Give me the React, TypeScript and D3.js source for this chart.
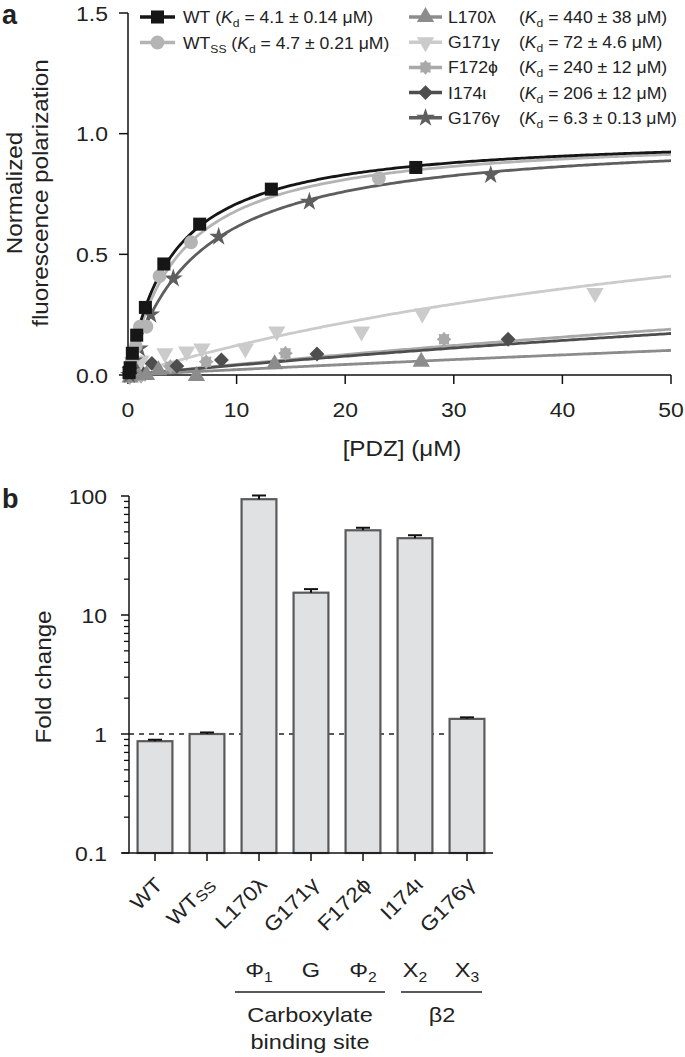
import React from "react";
import * as d3 from "d3";

// ---------- Panel a data ----------
const seriesNames = ["WT", "WTss", "L170", "G171", "F172", "I174", "G176"];
const kdValues = [4.1, 4.7, 440, 72, 240, 206, 6.3];
const bmaxValues = [1.0, 1.0, 1.0, 1.0, 1.1, 0.88, 1.0];
const seriesColors = ["#161616", "#b4b4b4", "#8c8c8c", "#cbcbcb", "#a9a9a9", "#4e4e4e", "#5e5e5e"];
const seriesShapes = ["square", "circle", "triangle", "triangleDown", "flower", "diamond", "star"];

const wtX = [0.1, 0.2, 0.4, 0.8, 1.6, 3.3, 6.6, 13.2, 26.5];
const wtY = [0.01, 0.03, 0.09, 0.165, 0.28, 0.46, 0.625, 0.77, 0.86];
const wtssX = [0.18, 0.36, 0.72, 1.1, 1.7, 2.9, 5.8, 23.1];
const wtssY = [0.02, 0.06, 0.12, 0.2, 0.2, 0.41, 0.55, 0.815];
const l170X = [0.2, 0.4, 0.85, 1.7, 2.8, 6.3, 13.5, 27];
const l170Y = [-0.01, 0.0, 0.005, 0.0, 0.02, -0.004, 0.045, 0.055];
const g171X = [0.3, 0.6, 1.2, 3.4, 5.4, 6.8, 10.8, 13.7, 21.5, 27.1, 43];
const g171Y = [0.02, 0.05, 0.06, 0.09, 0.097, 0.11, 0.11, 0.18, 0.18, 0.255, 0.34];
const f172X = [0.15, 0.3, 0.6, 1.2, 3.9, 7.2, 14.5, 29.1];
const f172Y = [-0.01, 0.0, 0.03, -0.005, 0.035, 0.055, 0.09, 0.148];
const i174X = [0.27, 0.55, 1.1, 2.2, 4.5, 8.6, 17.4, 35];
const i174Y = [0.0, 0.01, 0.02, 0.048, 0.037, 0.062, 0.087, 0.148];
const g176X = [0.13, 0.26, 0.52, 1.04, 2.09, 4.17, 8.35, 16.7, 33.4];
const g176Y = [0.0, 0.02, 0.06, 0.11, 0.25, 0.4, 0.573, 0.718, 0.829];

const pointsX = [wtX, wtssX, l170X, g171X, f172X, i174X, g176X];
const pointsY = [wtY, wtssY, l170Y, g171Y, f172Y, i174Y, g176Y];

const xTicksA = [0, 10, 20, 30, 40, 50];
const yTicksA = [0, 0.5, 1.0, 1.5];

// legend texts
const legendNames = ["WT", "WT", "L170λ", "G171γ", "F172ϕ", "I174ι", "G176γ"];
const legendKd = ["4.1 ± 0.14", "4.7 ± 0.21", "440 ± 38", "72 ± 4.6", "240 ± 12", "206 ± 12", "6.3 ± 0.13"];

// ---------- Panel b data ----------
const barCats = ["WT", "WTSS", "L170λ", "G171γ", "F172ϕ", "I174ι", "G176γ"];
const foldChange = [0.87, 1.0, 94, 15.4, 51.5, 44.2, 1.34];
const foldErr = [0.025, 0.03, 7, 1.1, 2.6, 2.6, 0.04];
const yTicksB = [0.1, 1, 10, 100];

const groupMarks = ["Φ", "G", "Φ", "X", "X"];
const groupSubs = ["1", "", "2", "2", "3"];
const groupCats = ["L170λ", "G171γ", "F172ϕ", "I174ι", "G176γ"];

const FONT = "'Liberation Sans', Arial, Helvetica, sans-serif";
const INK = "#222";

function markerPath(shape: string): string {
  switch (shape) {
    case "square":
      return d3.symbol(d3.symbolSquare, 170)() as string;
    case "circle":
      return d3.symbol(d3.symbolCircle, 150)() as string;
    case "triangle":
      return d3.symbol(d3.symbolTriangle, 130)() as string;
    case "triangleDown":
      return d3.symbol(d3.symbolTriangle, 130)() as string;
    case "diamond":
      return d3.symbol(d3.symbolSquare, 110)() as string;
    case "star":
      return d3.symbol(d3.symbolStar, 110)() as string;
    case "flower": {
      const pts: [number, number][] = d3.range(16).map((i) => [
        (i / 16) * 2 * Math.PI,
        i % 2 === 0 ? 7.2 : 5.4,
      ]);
      return d3.lineRadial().curve(d3.curveCardinalClosed)(pts) as string;
    }
  }
  return "";
}
function markerRotate(shape: string): number {
  if (shape === "triangleDown") return 180;
  if (shape === "diamond") return 45;
  return 0;
}

function Marker({ shape, x, y, color }: { shape: string; x: number; y: number; color: string }) {
  return (
    <path
      d={markerPath(shape)}
      transform={`translate(${x},${y}) rotate(${markerRotate(shape)})`}
      fill={color}
    />
  );
}

// Text stretched horizontally to mimic the wider reference face
function T({
  x,
  y,
  rot = 0,
  sx = 1.12,
  size = 20,
  anchor = "start",
  children,
  weight,
}: {
  x: number;
  y: number;
  rot?: number;
  sx?: number;
  size?: number;
  anchor?: string;
  children: React.ReactNode;
  weight?: string;
}) {
  return (
    <g transform={`translate(${x},${y}) rotate(${rot}) scale(${sx},1)`}>
      <text x={0} y={0} fontSize={size} textAnchor={anchor} fill={INK} fontWeight={weight}>
        {children}
      </text>
    </g>
  );
}

export default function App() {
  // Panel a scales
  const xA = d3.scaleLinear().domain([0, 50]).range([128, 671]);
  const yA = d3.scaleLinear().domain([0, 1.5]).range([375, 13]);
  const curveXs = d3.range(0, 50.001, 0.25);
  const line = d3
    .line<[number, number]>()
    .x((d) => xA(d[0]))
    .y((d) => yA(d[1]));

  // Panel b scales
  const xB = d3.scaleBand<string>().domain(barCats).range([129, 493]).paddingInner(0.33).paddingOuter(0.165);
  const yB = d3.scaleLog().domain([0.1, 100]).range([853, 496]);
  const minorB: number[] = [];
  [0.1, 1, 10].forEach((dec) => {
    for (let k = 2; k <= 9; k++) minorB.push(dec * k);
  });
  const cx = (c: string) => xB(c)! + xB.bandwidth() / 2;

  const legendRowsLeft = [0, 1];
  const legendRowsRight = [2, 3, 4, 5, 6];
  const drawOrder = [4, 5, 2, 3, 6, 1, 0];

  return (
    <svg width={685} height={1057} style={{ display: "block", position: "absolute", left: 0, top: 0 }} fontFamily={FONT}>
      <rect x={0} y={0} width={685} height={1057} fill="#fff" />
      {/* ===== Panel a ===== */}
      <T x={2} y={24} size={27} sx={1} weight="bold">a</T>

      {/* axes */}
      <line x1={xA(0)} x2={xA(0)} y1={yA(0)} y2={yA(1.5)} stroke="#111" strokeWidth={1.5} />
      <line x1={xA(0)} x2={xA(50)} y1={yA(0)} y2={yA(0)} stroke="#111" strokeWidth={1.5} />
      {yTicksA.map((t) => (
        <g key={"ya" + t}>
          <line x1={xA(0) - 9} x2={xA(0)} y1={yA(t)} y2={yA(t)} stroke="#111" strokeWidth={1.5} />
          <T x={xA(0) - 20} y={yA(t) + 7.5} size={20.5} anchor="end">
            {t.toFixed(1)}
          </T>
        </g>
      ))}
      {xTicksA.map((t) => (
        <g key={"xa" + t}>
          <line x1={xA(t)} x2={xA(t)} y1={yA(0)} y2={yA(0) + 9} stroke="#111" strokeWidth={1.5} />
          <T x={xA(t)} y={yA(0) + 42} size={20.5} anchor="middle">
            {t}
          </T>
        </g>
      ))}
      <T x={402} y={456} size={22} sx={1.1} anchor="middle">[PDZ] (μM)</T>
      <T x={22} y={193} rot={-90} size={22} sx={1.1} anchor="middle">Normalized</T>
      <T x={48} y={193} rot={-90} size={22} sx={1.1} anchor="middle">fluorescence polarization</T>

      {/* fitted curves */}
      {drawOrder.map((si) => (
        <path
          key={"s" + si}
          d={line(curveXs.map((x) => [x, (bmaxValues[si] * x) / (kdValues[si] + x)]))!}
          fill="none"
          stroke={seriesColors[si]}
          strokeWidth={2.8}
        />
      ))}
      {/* data points */}
      {drawOrder.map((si) => (
        <g key={"p" + si}>
          {pointsX[si].map((x, i) => (
            <Marker key={i} shape={seriesShapes[si]} x={xA(x)} y={yA(pointsY[si][i])} color={seriesColors[si]} />
          ))}
        </g>
      ))}

      {/* legend */}
      {legendRowsLeft.map((si, r) => {
        const y = 17 + r * 25.5;
        return (
          <g key={"ll" + si}>
            <line x1={140} x2={175} y1={y} y2={y} stroke={seriesColors[si]} strokeWidth={3.5} />
            <Marker shape={seriesShapes[si]} x={157.5} y={y} color={seriesColors[si]} />
            <T x={183} y={y + 6} size={16} sx={1.1}>
              {legendNames[si]}
              {si === 1 ? <tspan fontSize={11} dy={4}>SS</tspan> : null}
              <tspan dy={si === 1 ? -4 : 0}> (</tspan>
              <tspan fontStyle="italic">K</tspan>
              <tspan fontSize={11} dy={4}>d</tspan>
              <tspan dy={-4}>{" = " + legendKd[si] + " μM)"}</tspan>
            </T>
          </g>
        );
      })}
      {legendRowsRight.map((si, r) => {
        const y = 17 + r * 25.2;
        return (
          <g key={"lr" + si}>
            <line x1={409} x2={442} y1={y} y2={y} stroke={seriesColors[si]} strokeWidth={3.5} />
            <Marker shape={seriesShapes[si]} x={425.5} y={y} color={seriesColors[si]} />
            <T x={448} y={y + 6} size={16} sx={1.1}>{legendNames[si]}</T>
            <T x={519} y={y + 6} size={16} sx={1.1}>
              (<tspan fontStyle="italic">K</tspan>
              <tspan fontSize={11} dy={4}>d</tspan>
              <tspan dy={-4}>{" = " + legendKd[si] + " μM)"}</tspan>
            </T>
          </g>
        );
      })}

      {/* ===== Panel b ===== */}
      <T x={2} y={508} size={27} sx={1} weight="bold">b</T>

      {/* dashed reference line at 1 */}
      <line x1={129} x2={xB("G176γ")!} y1={yB(1)} y2={yB(1)} stroke="#222" strokeWidth={1.5} strokeDasharray="5,5" />

      {barCats.map((c, i) => (
        <g key={"bar" + c}>
          <rect
            x={xB(c)!}
            y={yB(foldChange[i])}
            width={xB.bandwidth()}
            height={yB(0.1) - yB(foldChange[i])}
            fill="#e0e1e3"
            stroke="#5a5a5a"
            strokeWidth={2.2}
          />
          <line
            x1={cx(c)}
            x2={cx(c)}
            y1={yB(foldChange[i])}
            y2={yB(foldChange[i] + foldErr[i])}
            stroke="#111"
            strokeWidth={2}
          />
          <line
            x1={cx(c) - 7}
            x2={cx(c) + 7}
            y1={yB(foldChange[i] + foldErr[i])}
            y2={yB(foldChange[i] + foldErr[i])}
            stroke="#111"
            strokeWidth={2}
          />
        </g>
      ))}

      {/* axes */}
      <line x1={129} x2={129} y1={yB(0.1)} y2={yB(100)} stroke="#111" strokeWidth={1.5} />
      <line x1={122} x2={493} y1={yB(0.1)} y2={yB(0.1)} stroke="#111" strokeWidth={1.5} />
      {yTicksB.map((t) => (
        <g key={"yb" + t}>
          <line x1={121} x2={129} y1={yB(t)} y2={yB(t)} stroke="#111" strokeWidth={1.5} />
          <T x={107} y={yB(t) + 7.5} size={20.5} anchor="end">{t}</T>
        </g>
      ))}
      {minorB.map((t) => (
        <line key={"mb" + t} x1={124} x2={129} y1={yB(t)} y2={yB(t)} stroke="#111" strokeWidth={1.3} />
      ))}
      {barCats.map((c) => (
        <g key={"xb" + c}>
          <line x1={cx(c)} x2={cx(c)} y1={yB(0.1)} y2={yB(0.1) + 8} stroke="#111" strokeWidth={1.5} />
          <T x={cx(c) + 9} y={yB(0.1) + 33} rot={-45} size={20.5} anchor="end">
            {c === "WTSS" ? (
              <>
                WT<tspan fontSize={15} dy={2}>SS</tspan>
              </>
            ) : (
              c
            )}
          </T>
        </g>
      ))}
      <T x={51} y={677} rot={-90} size={22} sx={1.1} anchor="middle">Fold change</T>

      {/* group annotations */}
      {groupCats.map((c, i) => (
        <T key={"g" + c} x={cx(c)} y={977} size={21} anchor="middle">
          {groupMarks[i]}
          {groupSubs[i] ? <tspan fontSize={14} dy={5}>{groupSubs[i]}</tspan> : null}
        </T>
      ))}
      <line x1={235} x2={385} y1={992} y2={992} stroke="#222" strokeWidth={1.5} />
      <line x1={401} x2={482} y1={992} y2={992} stroke="#222" strokeWidth={1.5} />
      <T x={310} y={1022} size={21} anchor="middle">Carboxylate</T>
      <T x={310} y={1049} size={21} anchor="middle">binding site</T>
      <T x={442} y={1022} size={21} anchor="middle">β2</T>
    </svg>
  );
}
